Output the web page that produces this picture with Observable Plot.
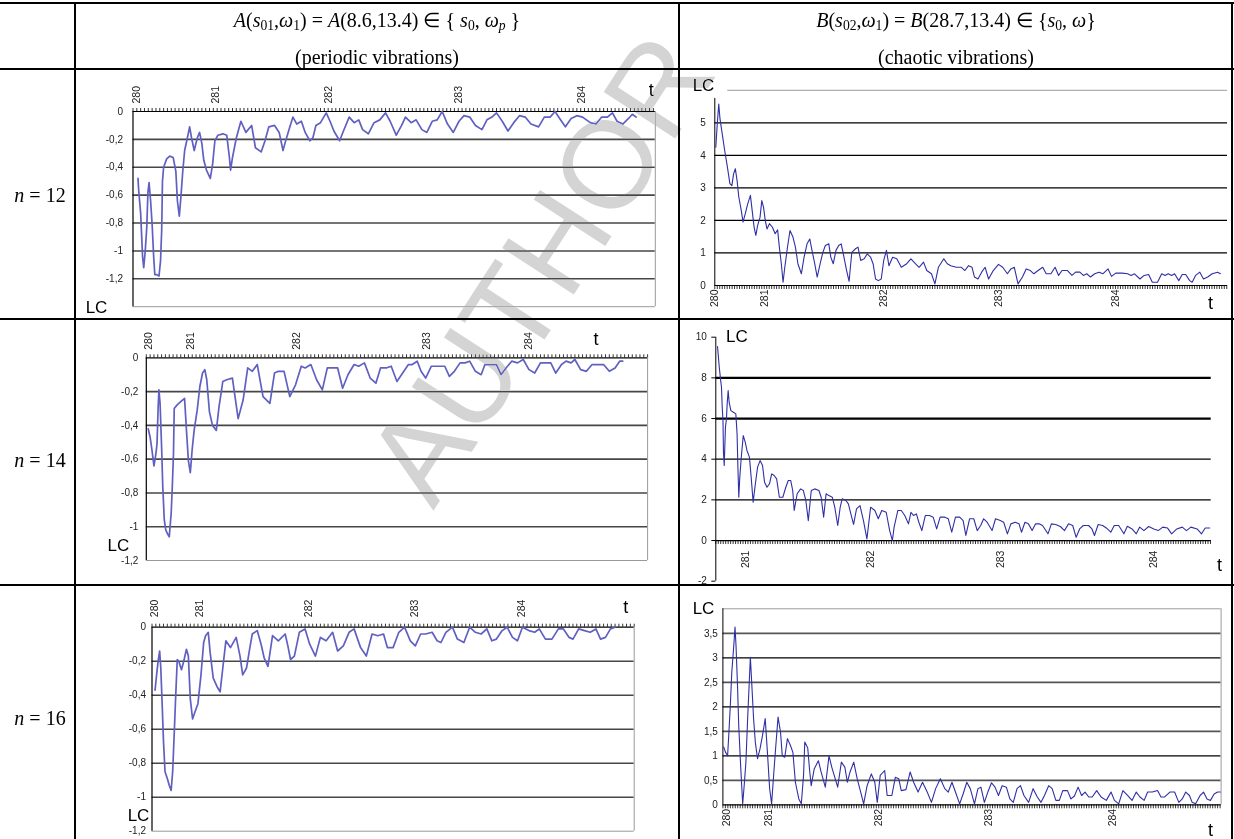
<!DOCTYPE html>
<html><head><meta charset="utf-8">
<script src="https://cdn.jsdelivr.net/npm/d3@7"></script>
<script src="https://cdn.jsdelivr.net/npm/@observablehq/plot@0.6"></script>
<style>
body{margin:0;background:#fff;}
#root{position:relative;width:1234px;height:839px;overflow:hidden;background:#fff;font-family:"Liberation Serif","Times New Roman",serif;color:#000;}
.ln{position:absolute;background:#000;}
.tx{position:absolute;transform:translate(-50%,-50%);white-space:nowrap;font-size:20px;line-height:1;}
.tx sub{font-size:0.68em;vertical-align:-0.25em;line-height:0;}
.wm{position:absolute;left:0;top:0;font-family:"Liberation Sans",Arial,sans-serif;font-size:124px;color:#d4d4d4;white-space:nowrap;line-height:1;pointer-events:none;mix-blend-mode:darken;}
</style></head>
<body><div id="root">
<div class="ln" style="left:0;top:2px;width:1234px;height:2px"></div>
<div class="ln" style="left:0;top:68px;width:1234px;height:2px"></div>
<div class="ln" style="left:0;top:318px;width:1234px;height:2px"></div>
<div class="ln" style="left:0;top:584px;width:1234px;height:2px"></div>
<div class="ln" style="left:74px;top:2px;width:1.5px;height:837px"></div>
<div class="ln" style="left:678px;top:2px;width:1.5px;height:837px"></div>
<div class="ln" style="left:1231px;top:2px;width:2px;height:837px"></div>
<div class="tx" style="left:377px;top:20px"><i>A</i>(<i>s</i><sub>01</sub>,<i>ω</i><sub>1</sub>) = <i>A</i>(8.6,13.4) ∈ { <i>s</i><sub>0</sub>, <i>ω<sub>p</sub></i> }</div>
<div class="tx" style="left:377px;top:57px">(periodic vibrations)</div>
<div class="tx" style="left:956px;top:20px"><i>B</i>(<i>s</i><sub>02</sub>,<i>ω</i><sub>1</sub>) = <i>B</i>(28.7,13.4) ∈ {<i>s</i><sub>0</sub>, <i>ω</i>}</div>
<div class="tx" style="left:956px;top:57px">(chaotic vibrations)</div>
<div class="tx" style="left:40px;top:195px"><i>n</i> = 12</div>
<div class="tx" style="left:40px;top:460px"><i>n</i> = 14</div>
<div class="tx" style="left:40px;top:718px"><i>n</i> = 16</div>
</div>
<script>
// ---- data: category position (index along the category axis) and LC value ----
const tLabels = ["280","281","282","283","284"];
const tLabelsB14 = ["281","282","283","284"];

const a12TickPos = [1.0, 21.5, 51, 85, 117.2];
const a12X = [1.3,1.5,2.0,2.5,2.8,3.2,3.6,3.9,4.2,4.6,5.0,5.4,5.7,6.2,6.8,7.2,7.5,7.7,8.0,8.8,9.6,10.5,11.2,11.6,12.1,12.5,13.0,13.5,14.2,14.8,15.3,16.0,16.8,17.4,18.0,18.5,19.2,20.2,20.8,21.4,22.2,23.5,24.5,25.2,25.5,26.0,27.0,28.2,29.5,31.0,32.0,33.5,34.5,35.5,37.0,38.2,39.2,40.0,41.0,41.8,42.8,44.0,45.0,46.2,47.0,47.8,49.0,50.5,51.5,52.5,54.0,55.0,56.5,57.8,59.0,60.0,61.5,63.0,64.5,66.0,67.2,68.8,70.2,71.2,72.7,74.0,75.5,76.8,78.2,79.5,80.8,82.2,83.7,85.2,86.5,88.0,89.5,91.2,92.5,93.8,95.0,96.5,98.0,99.5,101.0,102.5,104.0,106.0,107.5,109.0,110.3,111.5,113.0,114.5,116.0,117.5,119.5,121.0,122.5,124.0,125.3,126.5,128.0,129.5,130.5,131.5];
const a12Y = [-0.48,-0.57,-0.73,-1.04,-1.12,-1.0,-0.83,-0.58,-0.51,-0.64,-0.81,-1.04,-1.17,-1.17,-1.18,-1.07,-0.85,-0.5,-0.4,-0.34,-0.32,-0.33,-0.43,-0.64,-0.75,-0.62,-0.43,-0.28,-0.19,-0.11,-0.19,-0.28,-0.19,-0.15,-0.23,-0.35,-0.42,-0.48,-0.38,-0.21,-0.17,-0.16,-0.17,-0.33,-0.42,-0.33,-0.19,-0.07,-0.15,-0.10,-0.26,-0.29,-0.21,-0.11,-0.10,-0.15,-0.28,-0.2,-0.11,-0.04,-0.09,-0.07,-0.15,-0.21,-0.19,-0.10,-0.08,-0.01,-0.07,-0.14,-0.21,-0.14,-0.04,-0.08,-0.06,-0.13,-0.16,-0.08,-0.06,-0.01,-0.07,-0.17,-0.10,-0.04,-0.08,-0.06,-0.13,-0.15,-0.07,-0.06,0,-0.09,-0.15,-0.07,-0.03,-0.04,-0.10,-0.13,-0.06,-0.04,-0.01,-0.07,-0.14,-0.08,-0.03,-0.04,-0.09,-0.11,-0.04,-0.04,0,-0.05,-0.11,-0.05,-0.03,-0.04,-0.08,-0.09,-0.04,-0.04,-0.01,-0.07,-0.09,-0.05,-0.02,-0.04];
const a12YTicks = [0,-0.2,-0.4,-0.6,-0.8,-1,-1.2];
const a12Grid = [-0.2,-0.4,-0.6,-0.8,-1,-1.2];

const b12TickPos = [0, 20.1, 68.3, 114.7, 162.1];
const b12X = [0.4,1.0,1.6,2.1,3.0,4.0,5.1,6.1,6.9,7.6,8.3,9.0,9.7,10.7,11.4,12.3,13.3,14.4,15.1,15.9,16.6,17.3,18.3,19.0,19.7,20.4,21.1,22.1,23.3,24.4,25.4,26.1,26.9,27.6,28.3,29.3,30.4,31.6,32.6,33.6,35.0,36.1,37.3,38.4,39.3,40.4,41.4,42.6,43.7,44.7,46.1,46.9,47.9,49.0,50.1,51.1,52.1,53.3,54.3,55.4,56.9,57.9,59.0,60.4,61.6,63.0,64.0,65.0,66.1,67.3,68.3,69.4,70.4,71.9,73.6,75.4,77.6,79.3,81.1,82.6,84.4,85.7,87.6,89.0,90.4,92.6,94.0,95.4,97.6,99.7,101.1,102.6,104.0,105.0,106.4,107.9,109.3,110.7,112.6,114.7,116.4,118.3,119.7,121.1,122.6,124.4,125.9,127.6,129.0,130.7,132.6,134.0,135.9,137.6,139.0,140.4,142.6,144.4,145.9,147.6,149.0,150.4,151.9,153.6,155.4,156.9,159.0,160.4,162.1,164.7,166.9,168.3,169.7,171.9,173.6,175.4,176.9,179.0,180.7,182.1,183.3,184.7,185.9,187.6,189.0,190.4,192.0,193.0,194.4,196.1,197.6,199.3,201.1,203.3,204.4];
const b12Y = [4.25,4.97,5.58,5.12,4.66,4.15,3.64,3.13,3.07,3.43,3.59,3.23,2.72,2.31,1.95,2.2,2.51,2.77,2.31,1.79,1.54,1.84,2.10,2.61,2.41,2.0,1.74,1.9,1.79,1.59,1.71,1.18,0.67,0.1,0.56,1.13,1.69,1.49,1.18,0.67,0.36,0.87,1.28,1.43,1.08,0.67,0.26,0.67,1.02,1.23,1.28,0.87,0.67,1.08,1.23,1.28,0.92,0.46,0.13,1.02,1.13,1.18,0.77,0.82,0.97,0.87,0.67,0.2,0.15,0.2,0.77,1.08,0.61,0.87,0.82,0.56,0.67,0.82,0.67,0.56,0.72,0.46,0.36,0.05,0.56,0.82,0.67,0.61,0.56,0.56,0.46,0.61,0.56,0.26,0.2,0.41,0.56,0.2,0.46,0.65,0.56,0.36,0.51,0.56,0.05,0.26,0.51,0.46,0.36,0.46,0.56,0.36,0.36,0.56,0.31,0.46,0.46,0.31,0.41,0.41,0.31,0.36,0.26,0.36,0.41,0.36,0.51,0.28,0.38,0.38,0.36,0.31,0.36,0.2,0.31,0.34,0.1,0.1,0.36,0.31,0.36,0.31,0.36,0.15,0.34,0.34,0.15,0.1,0.31,0.41,0.2,0.26,0.36,0.41,0.36];
const b12YTicks = [0,1,2,3,4,5];
const b12Grid = [1,2,3,4,5];

const a14TickPos = [0.5, 11.5, 39.3, 73.3, 100];
const a14X = [0.5,1.0,1.5,2.0,2.5,2.8,3.1,3.3,3.6,4.0,4.3,4.7,5.1,5.5,6.0,6.5,6.8,7.1,7.3,8.0,9.0,10.0,10.5,11.0,11.5,12.0,12.5,13.3,14.0,14.7,15.3,15.8,16.5,17.3,18.3,19.0,20.0,21.0,22.5,24.0,25.3,26.5,27.7,29.0,30.5,32.3,33.5,34.5,36.0,37.5,39.0,40.5,41.5,43.0,44.5,46.0,47.3,48.5,50.0,51.3,52.7,54.3,55.5,57.0,58.5,60.0,61.2,62.7,64.0,65.5,67.0,68.5,69.5,70.8,71.8,73.0,74.5,76.5,78.0,79.2,80.5,82.0,83.3,84.5,86.0,87.5,88.5,90.0,91.5,92.7,94.0,95.5,97.0,98.5,100.0,101.5,103.0,104.5,105.7,107.0,108.5,109.7,111.0,112.0,113.5,115.0,116.5,118.0,119.5,121.0,122.5,123.7,124.5];
const a14Y = [-0.42,-0.47,-0.55,-0.64,-0.57,-0.51,-0.29,-0.19,-0.27,-0.53,-0.76,-0.96,-1.02,-1.04,-1.06,-0.92,-0.76,-0.57,-0.3,-0.28,-0.26,-0.24,-0.43,-0.61,-0.68,-0.54,-0.43,-0.31,-0.17,-0.09,-0.07,-0.13,-0.32,-0.40,-0.43,-0.29,-0.14,-0.13,-0.12,-0.36,-0.25,-0.06,-0.08,-0.04,-0.23,-0.27,-0.09,-0.08,-0.08,-0.23,-0.16,-0.05,-0.06,-0.04,-0.13,-0.19,-0.06,-0.06,-0.06,-0.18,-0.10,-0.04,-0.05,-0.03,-0.12,-0.15,-0.06,-0.06,-0.05,-0.14,-0.09,-0.04,-0.04,-0.02,-0.08,-0.12,-0.05,-0.05,-0.05,-0.11,-0.08,-0.03,-0.03,-0.02,-0.08,-0.10,-0.04,-0.04,-0.04,-0.10,-0.06,-0.02,-0.03,-0.01,-0.07,-0.09,-0.03,-0.03,-0.03,-0.09,-0.04,-0.02,-0.03,-0.01,-0.07,-0.08,-0.04,-0.04,-0.04,-0.08,-0.06,-0.02,-0.02];
const a14YTicks = [0,-0.2,-0.4,-0.6,-0.8,-1,-1.2];
const a14Grid = [-0.2,-0.4,-0.6,-0.8,-1];

const b14TickPos = [11.9, 62.4, 115, 177.1];
const b14X = [0.7,1.4,1.9,2.3,2.6,2.9,3.1,3.4,3.9,4.3,4.6,5.0,5.4,6.1,7.1,8.1,8.6,8.9,9.3,9.7,10.3,11.1,11.9,12.6,13.6,14.3,15.1,16.0,16.9,17.9,18.9,19.7,20.7,21.7,22.6,23.6,24.6,25.7,27.1,28.3,29.3,30.3,31.1,31.7,32.9,34.3,35.4,36.4,37.4,38.6,40.0,41.7,42.6,43.6,44.6,45.7,47.1,48.1,49.3,50.3,51.1,52.6,53.6,54.6,55.7,56.9,58.3,59.7,61.1,62.6,64.3,65.7,67.1,68.9,70.3,71.4,72.1,73.6,75.0,76.4,77.9,78.9,80.0,81.1,82.1,83.3,84.7,86.4,87.9,89.3,90.7,92.6,94.0,95.4,96.9,98.6,100.0,101.1,102.6,104.3,105.7,107.1,108.3,109.7,111.7,113.1,115.0,116.4,117.9,119.3,121.1,122.6,123.6,125.0,126.4,127.9,129.3,130.7,132.1,134.3,135.7,137.4,139.3,141.0,142.6,144.3,145.7,147.1,148.6,150.7,152.1,153.1,154.6,156.4,157.9,159.7,161.1,162.9,165.0,166.4,168.3,170.0,171.4,173.1,175.0,177.1,178.9,180.7,182.6,184.3,186.4,188.6,190.3,192.1,194.6,196.4,197.9,199.7];
const b14Y = [9.54,8.52,7.95,7.54,6.56,5.9,4.34,3.69,5.57,5.98,6.72,7.38,6.8,6.39,6.31,6.23,5.25,3.77,2.13,3.11,4.1,5.16,4.84,4.43,4.1,3.11,1.89,2.79,3.61,3.93,3.69,2.87,2.62,2.79,3.28,3.2,3.03,2.13,2.13,2.62,2.95,2.95,2.46,1.48,2.3,2.54,2.46,1.97,0.98,2.46,2.54,2.46,2.13,1.15,2.3,2.21,2.13,1.64,0.74,1.64,2.05,1.97,1.8,1.31,0.79,1.56,1.72,0.98,0.08,1.64,1.48,1.07,1.48,1.39,0.49,0,0.66,1.48,1.48,1.23,0.82,1.39,1.23,1.31,0.9,0.49,1.23,1.23,1.15,0.57,1.15,1.15,1.07,0.41,1.15,1.15,0.98,0.25,1.07,1.07,0.49,0.74,1.07,0.9,0.49,1.07,0.98,0.9,0.33,0.82,0.9,0.82,0.41,0.9,0.82,0.49,0.82,0.82,0.74,0.33,0.82,0.79,0.69,0.49,0.82,0.74,0.16,0.57,0.74,0.74,0.57,0.25,0.79,0.74,0.62,0.41,0.74,0.74,0.33,0.7,0.57,0.33,0.66,0.49,0.69,0.57,0.49,0.66,0.62,0.33,0.57,0.66,0.49,0.66,0.57,0.33,0.62,0.62];
const b14YTicks = [-2,0,2,4,6,8,10];
const b14GridThin = [2,4];
const b14GridThick = [6,8];

const a16TickPos = [0.8, 12.5, 41, 68.5, 96.5];
const a16X = [0.8,1.2,1.6,2.0,2.3,2.7,3.0,3.4,4.0,4.5,5.0,5.4,5.8,6.2,6.6,7.0,7.7,8.3,9.0,9.5,10.0,10.6,11.2,12.0,12.8,13.5,14.0,14.7,15.2,16.0,17.0,17.8,18.5,19.3,20.5,22.0,23.0,23.7,24.7,25.5,26.2,27.5,28.5,29.3,30.3,31.5,33.0,34.8,35.5,36.2,37.2,38.5,40.0,41.2,42.7,44.0,45.5,47.2,48.5,50.0,51.5,52.8,54.5,56.0,57.5,59.0,60.5,61.5,63.0,64.5,66.0,67.5,68.8,70.2,71.5,73.2,74.5,75.5,76.8,78.5,79.8,81.5,83.0,84.5,86.0,87.5,88.8,90.0,91.5,92.8,94.2,95.5,96.8,98.5,100.0,101.2,102.8,104.5,106.2,107.5,109.0,110.0,111.5,113.0,114.5,116.0,117.2,118.5,119.8,121.0];
const a16Y = [-0.37,-0.28,-0.2,-0.14,-0.24,-0.48,-0.67,-0.85,-0.89,-0.93,-0.96,-0.85,-0.63,-0.4,-0.19,-0.2,-0.25,-0.2,-0.13,-0.17,-0.42,-0.54,-0.5,-0.45,-0.28,-0.09,-0.05,-0.03,-0.15,-0.3,-0.35,-0.38,-0.24,-0.08,-0.12,-0.06,-0.17,-0.28,-0.24,-0.13,-0.04,-0.02,-0.10,-0.18,-0.23,-0.05,-0.08,-0.04,-0.11,-0.19,-0.17,-0.03,-0.01,-0.10,-0.17,-0.06,-0.08,-0.03,-0.14,-0.11,-0.03,-0.01,-0.12,-0.17,-0.04,-0.05,-0.04,-0.12,-0.12,-0.03,0,-0.08,-0.11,-0.04,-0.04,-0.03,-0.08,-0.09,-0.03,0,-0.07,-0.09,0,-0.03,-0.04,-0.01,-0.08,-0.07,-0.02,0,-0.06,-0.08,0,-0.02,-0.03,-0.01,-0.07,-0.07,-0.01,-0.01,-0.06,-0.07,-0.01,-0.02,-0.03,-0.01,-0.07,-0.06,-0.01,0];
const a16YTicks = [0,-0.2,-0.4,-0.6,-0.8,-1,-1.2];
const a16Grid = [-0.2,-0.4,-0.6,-0.8,-1];

const b16TickPos = [1.4, 18.6, 63.1, 107.4, 157.4];
const b16X = [0.3,1.1,1.9,2.4,3.0,3.6,4.3,4.9,5.3,5.9,6.4,7.1,7.6,8.0,8.6,9.3,10.0,10.6,11.1,11.7,12.4,13.1,14.0,15.0,16.0,17.1,18.0,18.9,19.7,20.6,21.4,22.3,23.3,24.0,25.0,26.1,27.3,28.3,29.3,30.7,31.7,32.6,33.1,34.3,35.0,35.7,36.9,38.6,39.7,41.4,42.9,44.0,45.0,46.4,47.9,49.3,50.3,51.4,52.9,54.3,55.7,56.9,58.3,60.0,61.4,62.4,63.6,65.4,66.4,68.3,69.7,71.1,72.1,74.0,75.7,77.1,78.9,80.7,82.6,84.3,86.0,87.9,89.7,91.1,92.6,94.3,95.7,97.1,98.6,100.0,101.7,103.1,104.3,105.7,107.1,108.6,110.0,111.4,112.9,114.6,116.0,117.4,118.9,120.3,121.7,123.6,125.4,127.1,128.6,130.0,131.7,133.1,134.6,136.0,137.4,139.3,140.7,142.1,143.6,145.0,146.4,147.9,149.3,151.1,152.9,155.0,156.9,158.3,160.0,161.7,163.6,165.4,167.1,168.6,170.3,171.7,173.6,175.7,177.1,178.6,180.7,182.6,184.3,185.7,187.1,188.6,189.7,191.1,192.9,194.3,195.7,197.1,198.6,200.0,201.1];
const b16Y = [1.18,1.07,1.0,1.45,2.03,2.71,3.18,3.63,3.25,2.44,1.62,0.87,0.39,0.02,0.39,0.87,1.76,2.44,3.01,2.44,1.76,1.28,0.94,1.14,1.41,1.76,1.07,0.33,0.02,0.67,1.21,1.79,1.48,1.0,0.97,1.35,1.21,1.07,0.46,0.12,0.02,0.6,1.28,1.16,0.73,0.39,0.73,0.9,0.67,0.36,1.0,0.77,0.6,0.36,0.87,0.77,0.46,0.67,0.87,0.53,0.26,0.02,0.39,0.63,0.46,0.05,0.6,0.7,0.19,0.19,0.56,0.53,0.29,0.31,0.67,0.46,0.26,0.46,0.26,0.05,0.33,0.53,0.33,0.26,0.46,0.22,0.02,0.22,0.46,0.33,0.02,0.33,0.36,0.05,0.26,0.45,0.36,0.19,0.39,0.36,0.12,0.05,0.33,0.39,0.19,0.05,0.33,0.16,0.05,0.19,0.39,0.33,0.09,0.09,0.29,0.29,0.12,0.18,0.36,0.19,0.26,0.16,0.16,0.29,0.16,0.09,0.26,0.09,0.02,0.29,0.19,0.09,0.26,0.16,0.09,0.26,0.26,0.29,0.16,0.16,0.26,0.26,0.05,0.12,0.26,0.19,0.05,0.02,0.19,0.26,0.12,0.09,0.22,0.26,0.26];
const b16YTicks = [0,0.5,1,1.5,2,2.5,3,3.5];
const b16GridGray = [0.5,1.5,2.5,3.5];
const b16GridBlack = [1,2,3];

// ---- rendering ----
const root = document.getElementById("root");
const fmt = d => String(d).replace(".", ",");
const zipXY = (xs, ys) => xs.slice(0, Math.min(xs.length, ys.length)).map((x, i) => ({x, y: ys[i]}));
const SANS = "'Liberation Sans', Arial, sans-serif";
const A_LINE = "#6060c2", B_LINE = "#2f2fa6";

function place(svg, left, top) {
  svg.style.position = "absolute";
  svg.style.left = left + "px";
  svg.style.top = top + "px";
  root.appendChild(svg);
}

function label(txt, anchor, d, size) {
  return Plot.text([txt], {text: t => t, frameAnchor: anchor, dx: d[0], dy: d[1], fontSize: size,
    textAnchor: "middle", lineAnchor: "middle", fill: "#000"});
}

function panelA(o) {
  const cats = d3.range(0, Math.floor(o.n) + 1);
  const svg = Plot.plot({
    width: o.w, height: o.h,
    marginTop: o.m[0], marginRight: o.m[1], marginBottom: o.m[2], marginLeft: o.m[3],
    x: {domain: [0, o.n], axis: null},
    y: {domain: o.yDom, axis: null},
    style: {background: "transparent", fontFamily: SANS, fontSize: "10px", color: "#222", overflow: "visible"},
    marks: [
      Plot.ruleY(o.grid, {stroke: "#464646", strokeWidth: 1.6}),
      Plot.ruleY([o.yDom[0]], {stroke: "#999", strokeWidth: 1}),
      Plot.ruleX([o.n], {stroke: "#999", strokeWidth: 1}),
      Plot.ruleX([0], {stroke: "#000", strokeWidth: 1.2}),
      Plot.ruleY([0], {stroke: "#000", strokeWidth: 1.2}),
      Plot.ruleX(cats, {x: d => d, y1: () => 0, y2: () => 0, insetTop: -3, insetBottom: 0, stroke: "#000", strokeWidth: 0.8}),
      Plot.line(zipXY(o.xs, o.ys), {x: "x", y: "y", stroke: A_LINE, strokeWidth: 1.7}),
      Plot.text(o.yTicks, {y: d => d, text: fmt, frameAnchor: "left", textAnchor: "end", dx: o.yDx, fill: "#222"}),
      Plot.text(o.tickPos, {x: d => d, y: () => 0, text: (d, i) => o.labels[i], rotate: -90, textAnchor: "start", dy: o.labDy, fontSize: 10.5, fill: "#222"}),
      label("t", "top-right", o.tXY, 18),
      label("LC", "bottom-left", o.lcXY, 17)
    ]
  });
  place(svg, o.left, o.top);
}

function panelB(o) {
  const cats = d3.range(0, Math.floor(o.n) + 1);
  const marks = [];
  for (const g of o.grids) marks.push(Plot.ruleY(g.v, {stroke: g.c, strokeWidth: g.w}));
  if (o.topLine) marks.push(Plot.ruleY([o.yDom[1]], {stroke: "#9a9a9a", strokeWidth: 1, insetLeft: o.topLine.inset || 0}));
  if (o.rightBorder) marks.push(Plot.ruleX([o.n], {stroke: "#9a9a9a", strokeWidth: 1}));
  marks.push(Plot.ruleX([0], {x: d => d, y1: () => o.yAxis[0], y2: () => o.yAxis[1], stroke: "#000", strokeWidth: 1}));
  if (o.yTickLen) marks.push(Plot.ruleY(o.yTicks, {y: d => d, x1: () => 0, x2: () => 0, insetLeft: -o.yTickLen, insetRight: 0, stroke: "#000", strokeWidth: 1}));
  marks.push(Plot.ruleY([0], {stroke: "#000", strokeWidth: 1.2}));
  marks.push(Plot.ruleX(cats, {x: d => d, y1: () => 0, y2: () => 0, insetTop: 0, insetBottom: -4, stroke: "#000", strokeWidth: 0.8}));
  marks.push(Plot.line(zipXY(o.xs, o.ys), {x: "x", y: "y", stroke: B_LINE, strokeWidth: 1.1}));
  marks.push(Plot.text(o.yTicks, {y: d => d, text: fmt, frameAnchor: "left", textAnchor: "end", dx: o.yDx, fill: "#222"}));
  marks.push(Plot.text(o.tickPos, {x: d => d, y: () => 0, text: (d, i) => o.labels[i], rotate: -90, textAnchor: "end", dy: o.labDy, fontSize: 10.5, fill: "#222"}));
  marks.push(label("t", "bottom-right", o.tXY, 18));
  marks.push(label("LC", "top-left", o.lcXY, 17));
  const svg = Plot.plot({
    width: o.w, height: o.h,
    marginTop: o.m[0], marginRight: o.m[1], marginBottom: o.m[2], marginLeft: o.m[3],
    x: {domain: [0, o.n], axis: null},
    y: {domain: o.yDom, axis: null},
    style: {background: "transparent", fontFamily: SANS, fontSize: "10px", color: "#222", overflow: "visible"},
    marks
  });
  place(svg, o.left, o.top);
}

panelA({left: 76, top: 70, w: 603, h: 248, m: [41, 24.2, 11.8, 56.5], n: 136.5, yDom: [-1.4, 0],
  xs: a12X, ys: a12Y, yTicks: a12YTicks, grid: a12Grid, tickPos: a12TickPos, labels: tLabels,
  labDy: -8, yDx: -10, tXY: [-4, -21], lcXY: [-36.5, 1]});
panelA({left: 76, top: 320, w: 603, h: 264, m: [37.3, 31.9, 24, 69.8], n: 131, yDom: [-1.2, 0],
  xs: a14X, ys: a14Y, yTicks: a14YTicks, grid: a14Grid, tickPos: a14TickPos, labels: tLabels,
  labDy: -8, yDx: -8, tXY: [-51.6, -19], lcXY: [-28, -14.5]});
panelA({left: 76, top: 586, w: 603, h: 253, m: [40.7, 45.3, 8.3, 75.5], n: 126, yDom: [-1.2, 0],
  xs: a16X, ys: a16Y, yTicks: a16YTicks, grid: a16Grid, tickPos: a16TickPos, labels: tLabels,
  labDy: -10, yDx: -6, tXY: [-8.4, -20], lcXY: [-13.5, -16]});

panelB({left: 680, top: 70, w: 552, h: 248, m: [19.8, 5, 33, 34.3], n: 207.3, yDom: [0, 6],
  xs: b12X, ys: b12Y, yTicks: b12YTicks, grids: [{v: b12Grid, c: "#000", w: 1.2}],
  topLine: {inset: 13}, rightBorder: false, yAxis: [0, 5.75], yTickLen: 0,
  tickPos: b12TickPos, labels: tLabels, labDy: 4, yDx: -9, tXY: [-17, 18], lcXY: [-11.3, -5]});
panelB({left: 680, top: 320, w: 552, h: 264, m: [16.7, 21.3, 3.3, 35.3], n: 200.3, yDom: [-2, 10],
  xs: b14X, ys: b14Y, yTicks: b14YTicks, grids: [{v: b14GridThin, c: "#000", w: 1.2}, {v: b14GridThick, c: "#000", w: 2.3}],
  topLine: null, rightBorder: false, yAxis: [-2, 10], yTickLen: 4,
  tickPos: b14TickPos, labels: tLabelsB14, labDy: 10, yDx: -9, tXY: [8.3, -15.7], lcXY: [21, -1]});
panelB({left: 680, top: 586, w: 552, h: 253, m: [22.3, 11.4, 34.7, 42.4], n: 201.4, yDom: [0, 4],
  xs: b16X, ys: b16Y, yTicks: b16YTicks, grids: [{v: b16GridGray, c: "#555", w: 1.8}, {v: b16GridBlack, c: "#000", w: 1.2}],
  topLine: {inset: 0}, rightBorder: true, yAxis: [0, 4], yTickLen: 0,
  tickPos: b16TickPos, labels: tLabels, labDy: 4, yDx: -5, tXY: [-10.6, 25], lcXY: [-19.4, 0]});

// watermark
const wm = document.createElement("div");
wm.className = "wm";
wm.textContent = "AUTHOR";
root.appendChild(wm);
const r = wm.getBoundingClientRect();
wm.style.left = (540 - r.width / 2) + "px";
wm.style.top = (268 - r.height / 2) + "px";
wm.style.transform = "rotate(-57deg)";
</script>
</body></html>
